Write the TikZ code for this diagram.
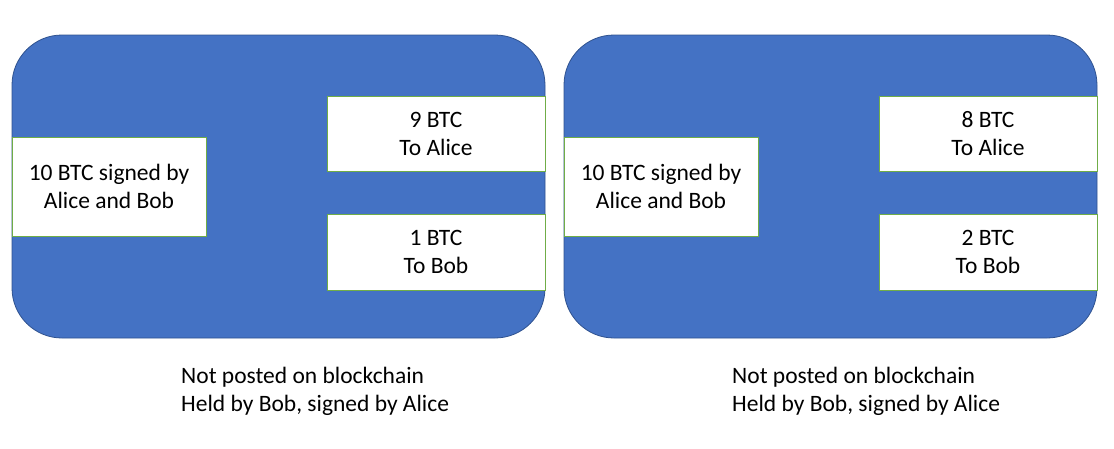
\documentclass[tikz,border=0pt]{standalone}
\usepackage{fontspec}
\setmainfont{Carlito}
\definecolor{panelblue}{HTML}{4472C4}
\definecolor{paneledge}{HTML}{2F528F}
\definecolor{boxedge}{HTML}{70AD47}
\begin{document}
\begin{tikzpicture}[x=1pt,y=-1pt,
  panel/.style={fill=panelblue,draw=paneledge,line width=0.8pt,rounded corners=50pt},
  txbox/.style={fill=white,draw=boxedge,line width=0.8pt,inner sep=0pt,align=center,font=\fontsize{23.5}{28}\selectfont},
  caption/.style={inner sep=0pt,align=left,anchor=base west,font=\fontsize{23.5}{28}\selectfont}]
\useasboundingbox (0,0) rectangle (1114,448);
% left panel
\draw[panel] (12,35) rectangle (545,338);
\node[txbox,minimum width=194pt,minimum height=99pt] (a1) at (109,186.5) {10 BTC signed by\\Alice and Bob};
\node[txbox,minimum width=218pt,minimum height=75pt] (a2) at (436,133.5) {9 BTC\\To Alice};
\node[txbox,minimum width=218pt,minimum height=76pt] (a3) at (436,252) {1 BTC\\To Bob};
\node[caption] (ac) at (181,411) {Not posted on blockchain\\Held by Bob, signed by Alice};
% right panel
\draw[panel] (564,35) rectangle (1097,338);
\node[txbox,minimum width=194pt,minimum height=99pt] (b1) at (661,186.5) {10 BTC signed by\\Alice and Bob};
\node[txbox,minimum width=218pt,minimum height=75pt] (b2) at (988,133.5) {8 BTC\\To Alice};
\node[txbox,minimum width=218pt,minimum height=76pt] (b3) at (988,252) {2 BTC\\To Bob};
\node[caption] (bc) at (732,411) {Not posted on blockchain\\Held by Bob, signed by Alice};
\end{tikzpicture}
\end{document}
